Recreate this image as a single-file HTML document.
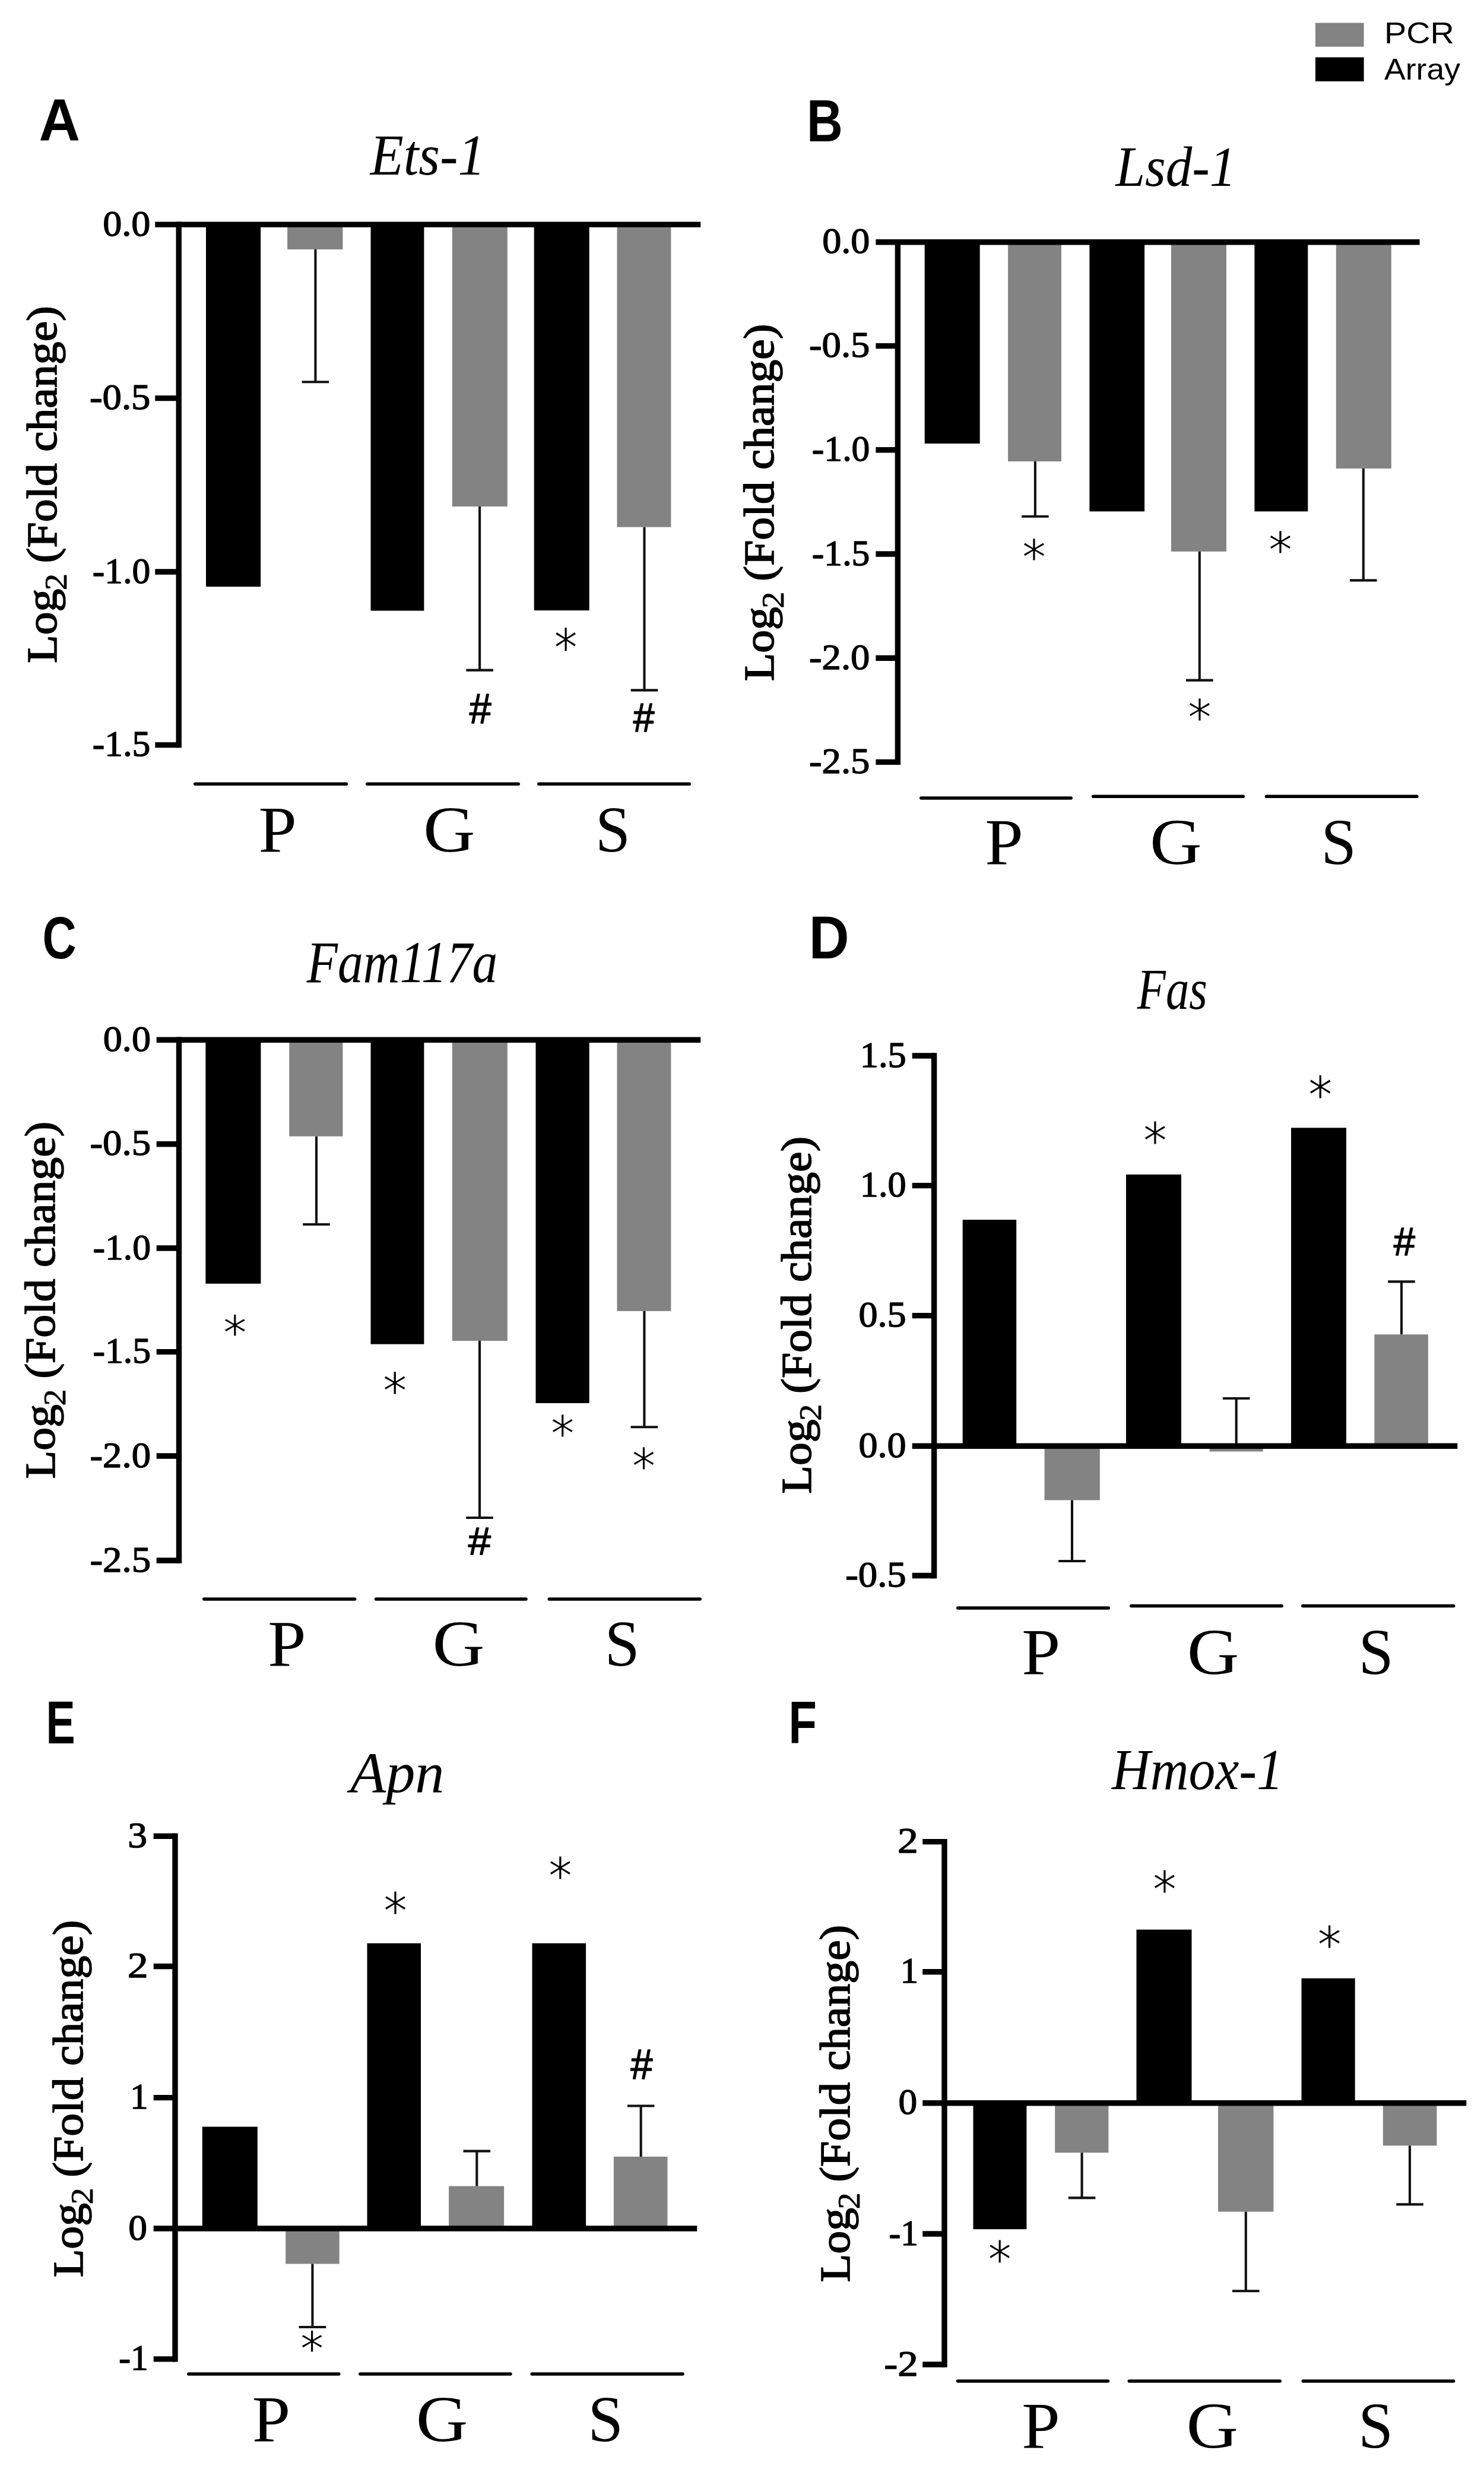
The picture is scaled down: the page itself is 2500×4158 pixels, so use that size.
<!DOCTYPE html>
<html lang="en"><head><meta charset="utf-8"><title>Figure: PCR vs Array Log2 fold change</title>
<style>
html,body{margin:0;padding:0;background:#fff}
svg{display:block}
text{fill:#000;white-space:pre}
</style></head>
<body>
<svg width="2500" height="4158" viewBox="0 0 2500 4158">
<rect width="2500" height="4158" fill="#fff"/>
<g shape-rendering="geometricPrecision">
<rect x="2216.0" y="38.5" width="81.6" height="40.2" fill="#838383"/>
<rect x="2216.0" y="96.5" width="81.6" height="40.5" fill="#000"/>
<rect x="347.0" y="378.1" width="92.1" height="609.9" fill="#000"/>
<rect x="484.1" y="378.1" width="93.3" height="41.9" fill="#838383"/>
<rect x="624.5" y="378.1" width="89.9" height="650.4" fill="#000"/>
<rect x="761.8" y="378.1" width="93.0" height="474.9" fill="#838383"/>
<rect x="899.7" y="378.1" width="93.0" height="649.9" fill="#000"/>
<rect x="1039.5" y="378.1" width="90.9" height="509.6" fill="#838383"/>
<line x1="531.4" y1="420.0" x2="531.4" y2="643.2" stroke="#111" stroke-width="4.1" stroke-linecap="butt"/>
<line x1="508.6" y1="643.2" x2="554.2" y2="643.2" stroke="#111" stroke-width="4.1" stroke-linecap="butt"/>
<line x1="808.1" y1="853.0" x2="808.1" y2="1128.6" stroke="#111" stroke-width="4.1" stroke-linecap="butt"/>
<line x1="785.3" y1="1128.6" x2="830.9" y2="1128.6" stroke="#111" stroke-width="4.1" stroke-linecap="butt"/>
<line x1="1085.5" y1="887.7" x2="1085.5" y2="1162.4" stroke="#111" stroke-width="4.1" stroke-linecap="butt"/>
<line x1="1062.7" y1="1162.4" x2="1108.3" y2="1162.4" stroke="#111" stroke-width="4.1" stroke-linecap="butt"/>
<line x1="301.2" y1="373.4" x2="301.2" y2="1259.3" stroke="#000" stroke-width="9.4" stroke-linecap="butt"/>
<line x1="261.3" y1="670.6" x2="301.2" y2="670.6" stroke="#000" stroke-width="9.4" stroke-linecap="butt"/>
<line x1="261.3" y1="963.0" x2="301.2" y2="963.0" stroke="#000" stroke-width="9.4" stroke-linecap="butt"/>
<line x1="261.3" y1="1254.6" x2="301.2" y2="1254.6" stroke="#000" stroke-width="9.4" stroke-linecap="butt"/>
<line x1="261.3" y1="378.1" x2="1180.3" y2="378.1" stroke="#000" stroke-width="9.4" stroke-linecap="butt"/>
<line x1="328.8" y1="1320.3" x2="583.2" y2="1320.3" stroke="#000" stroke-width="5.6" stroke-linecap="round"/>
<line x1="618.8" y1="1320.3" x2="873.2" y2="1320.3" stroke="#000" stroke-width="5.6" stroke-linecap="round"/>
<line x1="907.8" y1="1320.3" x2="1161.2" y2="1320.3" stroke="#000" stroke-width="5.6" stroke-linecap="round"/>
<rect x="1557.7" y="407.7" width="93.0" height="339.3" fill="#000"/>
<rect x="1698.1" y="407.7" width="89.9" height="369.3" fill="#838383"/>
<rect x="1835.4" y="407.7" width="92.7" height="453.6" fill="#000"/>
<rect x="1973.0" y="407.7" width="93.0" height="521.1" fill="#838383"/>
<rect x="2113.4" y="407.7" width="89.9" height="453.6" fill="#000"/>
<rect x="2250.8" y="407.7" width="93.0" height="381.3" fill="#838383"/>
<line x1="1743.9" y1="777.0" x2="1743.9" y2="869.8" stroke="#111" stroke-width="4.1" stroke-linecap="butt"/>
<line x1="1721.1" y1="869.8" x2="1766.7" y2="869.8" stroke="#111" stroke-width="4.1" stroke-linecap="butt"/>
<line x1="2020.8" y1="928.8" x2="2020.8" y2="1145.6" stroke="#111" stroke-width="4.1" stroke-linecap="butt"/>
<line x1="1998.0" y1="1145.6" x2="2043.6" y2="1145.6" stroke="#111" stroke-width="4.1" stroke-linecap="butt"/>
<line x1="2296.8" y1="789.0" x2="2296.8" y2="977.4" stroke="#111" stroke-width="4.1" stroke-linecap="butt"/>
<line x1="2274.0" y1="977.4" x2="2319.6" y2="977.4" stroke="#111" stroke-width="4.1" stroke-linecap="butt"/>
<line x1="1512.4" y1="403.0" x2="1512.4" y2="1288.1" stroke="#000" stroke-width="9.4" stroke-linecap="butt"/>
<line x1="1475.4" y1="582.6" x2="1512.4" y2="582.6" stroke="#000" stroke-width="9.4" stroke-linecap="butt"/>
<line x1="1475.4" y1="757.7" x2="1512.4" y2="757.7" stroke="#000" stroke-width="9.4" stroke-linecap="butt"/>
<line x1="1475.4" y1="933.0" x2="1512.4" y2="933.0" stroke="#000" stroke-width="9.4" stroke-linecap="butt"/>
<line x1="1475.4" y1="1108.3" x2="1512.4" y2="1108.3" stroke="#000" stroke-width="9.4" stroke-linecap="butt"/>
<line x1="1475.4" y1="1283.4" x2="1512.4" y2="1283.4" stroke="#000" stroke-width="9.4" stroke-linecap="butt"/>
<line x1="1475.4" y1="407.7" x2="2391.6" y2="407.7" stroke="#000" stroke-width="9.4" stroke-linecap="butt"/>
<line x1="1551.8" y1="1344.0" x2="1804.2" y2="1344.0" stroke="#000" stroke-width="5.6" stroke-linecap="round"/>
<line x1="1841.8" y1="1341.2" x2="2094.2" y2="1341.2" stroke="#000" stroke-width="5.6" stroke-linecap="round"/>
<line x1="2133.5" y1="1341.2" x2="2386.8" y2="1341.2" stroke="#000" stroke-width="5.6" stroke-linecap="round"/>
<rect x="346.4" y="1751.3" width="93.0" height="410.5" fill="#000"/>
<rect x="487.2" y="1751.3" width="90.2" height="162.4" fill="#838383"/>
<rect x="624.5" y="1751.3" width="89.9" height="512.4" fill="#000"/>
<rect x="761.8" y="1751.3" width="93.0" height="506.7" fill="#838383"/>
<rect x="902.5" y="1751.3" width="90.2" height="611.7" fill="#000"/>
<rect x="1039.5" y="1751.3" width="90.9" height="456.7" fill="#838383"/>
<line x1="533.0" y1="1913.7" x2="533.0" y2="2062.0" stroke="#111" stroke-width="4.1" stroke-linecap="butt"/>
<line x1="510.2" y1="2062.0" x2="555.8" y2="2062.0" stroke="#111" stroke-width="4.1" stroke-linecap="butt"/>
<line x1="808.0" y1="2258.0" x2="808.0" y2="2556.0" stroke="#111" stroke-width="4.1" stroke-linecap="butt"/>
<line x1="785.2" y1="2556.0" x2="830.8" y2="2556.0" stroke="#111" stroke-width="4.1" stroke-linecap="butt"/>
<line x1="1085.4" y1="2208.0" x2="1085.4" y2="2403.3" stroke="#111" stroke-width="4.1" stroke-linecap="butt"/>
<line x1="1062.6" y1="2403.3" x2="1108.2" y2="2403.3" stroke="#111" stroke-width="4.1" stroke-linecap="butt"/>
<line x1="301.5" y1="1746.6" x2="301.5" y2="2632.7" stroke="#000" stroke-width="9.4" stroke-linecap="butt"/>
<line x1="263.7" y1="1926.8" x2="301.5" y2="1926.8" stroke="#000" stroke-width="9.4" stroke-linecap="butt"/>
<line x1="263.7" y1="2102.0" x2="301.5" y2="2102.0" stroke="#000" stroke-width="9.4" stroke-linecap="butt"/>
<line x1="263.7" y1="2276.6" x2="301.5" y2="2276.6" stroke="#000" stroke-width="9.4" stroke-linecap="butt"/>
<line x1="263.7" y1="2452.0" x2="301.5" y2="2452.0" stroke="#000" stroke-width="9.4" stroke-linecap="butt"/>
<line x1="263.7" y1="2628.0" x2="301.5" y2="2628.0" stroke="#000" stroke-width="9.4" stroke-linecap="butt"/>
<line x1="263.7" y1="1751.3" x2="1180.3" y2="1751.3" stroke="#000" stroke-width="9.4" stroke-linecap="butt"/>
<line x1="343.8" y1="2693.0" x2="597.6" y2="2693.0" stroke="#000" stroke-width="5.6" stroke-linecap="round"/>
<line x1="633.5" y1="2693.0" x2="886.0" y2="2693.0" stroke="#000" stroke-width="5.6" stroke-linecap="round"/>
<line x1="925.3" y1="2693.0" x2="1179.2" y2="2693.0" stroke="#000" stroke-width="5.6" stroke-linecap="round"/>
<rect x="1621.7" y="2054.2" width="90.5" height="381.0" fill="#000"/>
<rect x="1759.6" y="2435.2" width="93.3" height="91.2" fill="#838383"/>
<rect x="1897.0" y="1978.0" width="93.0" height="457.2" fill="#000"/>
<rect x="2037.7" y="2435.2" width="89.9" height="9.3" fill="#838383"/>
<rect x="2175.0" y="1899.3" width="93.0" height="535.9" fill="#000"/>
<rect x="2315.4" y="2247.3" width="90.5" height="187.9" fill="#838383"/>
<line x1="1806.0" y1="2526.4" x2="1806.0" y2="2629.0" stroke="#111" stroke-width="4.1" stroke-linecap="butt"/>
<line x1="1783.2" y1="2629.0" x2="1828.8" y2="2629.0" stroke="#111" stroke-width="4.1" stroke-linecap="butt"/>
<line x1="2082.7" y1="2435.0" x2="2082.7" y2="2355.0" stroke="#111" stroke-width="4.1" stroke-linecap="butt"/>
<line x1="2059.9" y1="2355.0" x2="2105.5" y2="2355.0" stroke="#111" stroke-width="4.1" stroke-linecap="butt"/>
<line x1="2361.0" y1="2247.3" x2="2361.0" y2="2158.4" stroke="#111" stroke-width="4.1" stroke-linecap="butt"/>
<line x1="2338.2" y1="2158.4" x2="2383.8" y2="2158.4" stroke="#111" stroke-width="4.1" stroke-linecap="butt"/>
<line x1="1573.6" y1="1773.3" x2="1573.6" y2="2658.2" stroke="#000" stroke-width="9.4" stroke-linecap="butt"/>
<line x1="1536.7" y1="1778.0" x2="1573.6" y2="1778.0" stroke="#000" stroke-width="9.4" stroke-linecap="butt"/>
<line x1="1536.7" y1="1996.6" x2="1573.6" y2="1996.6" stroke="#000" stroke-width="9.4" stroke-linecap="butt"/>
<line x1="1536.7" y1="2215.6" x2="1573.6" y2="2215.6" stroke="#000" stroke-width="9.4" stroke-linecap="butt"/>
<line x1="1536.7" y1="2653.5" x2="1573.6" y2="2653.5" stroke="#000" stroke-width="9.4" stroke-linecap="butt"/>
<line x1="1536.7" y1="2435.2" x2="2455.3" y2="2435.2" stroke="#000" stroke-width="9.4" stroke-linecap="butt"/>
<line x1="1613.8" y1="2708.0" x2="1867.2" y2="2708.0" stroke="#000" stroke-width="5.6" stroke-linecap="round"/>
<line x1="1905.8" y1="2704.5" x2="2159.2" y2="2704.5" stroke="#000" stroke-width="5.6" stroke-linecap="round"/>
<line x1="2194.8" y1="2704.5" x2="2448.7" y2="2704.5" stroke="#000" stroke-width="5.6" stroke-linecap="round"/>
<rect x="340.8" y="3581.6" width="93.0" height="171.4" fill="#000"/>
<rect x="481.2" y="3753.0" width="90.5" height="59.5" fill="#838383"/>
<rect x="618.5" y="3272.6" width="90.5" height="480.4" fill="#000"/>
<rect x="756.1" y="3681.6" width="93.0" height="71.4" fill="#838383"/>
<rect x="896.5" y="3272.6" width="90.6" height="480.4" fill="#000"/>
<rect x="1033.9" y="3632.0" width="90.5" height="121.0" fill="#838383"/>
<line x1="526.4" y1="3812.5" x2="526.4" y2="3919.0" stroke="#111" stroke-width="4.1" stroke-linecap="butt"/>
<line x1="503.6" y1="3919.0" x2="549.2" y2="3919.0" stroke="#111" stroke-width="4.1" stroke-linecap="butt"/>
<line x1="803.3" y1="3681.6" x2="803.3" y2="3622.6" stroke="#111" stroke-width="4.1" stroke-linecap="butt"/>
<line x1="780.5" y1="3622.6" x2="826.1" y2="3622.6" stroke="#111" stroke-width="4.1" stroke-linecap="butt"/>
<line x1="1079.7" y1="3632.0" x2="1079.7" y2="3546.5" stroke="#111" stroke-width="4.1" stroke-linecap="butt"/>
<line x1="1056.9" y1="3546.5" x2="1102.5" y2="3546.5" stroke="#111" stroke-width="4.1" stroke-linecap="butt"/>
<line x1="295.0" y1="3087.5" x2="295.0" y2="3977.6" stroke="#000" stroke-width="9.4" stroke-linecap="butt"/>
<line x1="258.7" y1="3092.2" x2="295.0" y2="3092.2" stroke="#000" stroke-width="9.4" stroke-linecap="butt"/>
<line x1="258.7" y1="3311.5" x2="295.0" y2="3311.5" stroke="#000" stroke-width="9.4" stroke-linecap="butt"/>
<line x1="258.7" y1="3532.6" x2="295.0" y2="3532.6" stroke="#000" stroke-width="9.4" stroke-linecap="butt"/>
<line x1="258.7" y1="3972.9" x2="295.0" y2="3972.9" stroke="#000" stroke-width="9.4" stroke-linecap="butt"/>
<line x1="258.7" y1="3753.0" x2="1174.3" y2="3753.0" stroke="#000" stroke-width="9.4" stroke-linecap="butt"/>
<line x1="317.8" y1="3998.0" x2="570.8" y2="3998.0" stroke="#000" stroke-width="5.6" stroke-linecap="round"/>
<line x1="606.8" y1="3998.0" x2="859.9" y2="3998.0" stroke="#000" stroke-width="5.6" stroke-linecap="round"/>
<line x1="896.2" y1="3998.0" x2="1150.0" y2="3998.0" stroke="#000" stroke-width="5.6" stroke-linecap="round"/>
<rect x="1639.5" y="3541.8" width="89.9" height="212.4" fill="#000"/>
<rect x="1777.2" y="3541.8" width="90.2" height="83.5" fill="#838383"/>
<rect x="1914.5" y="3249.6" width="93.0" height="292.2" fill="#000"/>
<rect x="2052.0" y="3541.8" width="93.4" height="182.9" fill="#838383"/>
<rect x="2192.5" y="3331.6" width="90.2" height="210.2" fill="#000"/>
<rect x="2329.8" y="3541.8" width="90.6" height="71.6" fill="#838383"/>
<line x1="1822.6" y1="3625.3" x2="1822.6" y2="3701.4" stroke="#111" stroke-width="4.1" stroke-linecap="butt"/>
<line x1="1799.8" y1="3701.4" x2="1845.4" y2="3701.4" stroke="#111" stroke-width="4.1" stroke-linecap="butt"/>
<line x1="2098.8" y1="3724.7" x2="2098.8" y2="3858.3" stroke="#111" stroke-width="4.1" stroke-linecap="butt"/>
<line x1="2076.0" y1="3858.3" x2="2121.6" y2="3858.3" stroke="#111" stroke-width="4.1" stroke-linecap="butt"/>
<line x1="2375.0" y1="3613.4" x2="2375.0" y2="3712.4" stroke="#111" stroke-width="4.1" stroke-linecap="butt"/>
<line x1="2352.2" y1="3712.4" x2="2397.8" y2="3712.4" stroke="#111" stroke-width="4.1" stroke-linecap="butt"/>
<line x1="1591.0" y1="3096.9" x2="1591.0" y2="3986.7" stroke="#000" stroke-width="9.4" stroke-linecap="butt"/>
<line x1="1554.2" y1="3101.6" x2="1591.0" y2="3101.6" stroke="#000" stroke-width="9.4" stroke-linecap="butt"/>
<line x1="1554.2" y1="3320.8" x2="1591.0" y2="3320.8" stroke="#000" stroke-width="9.4" stroke-linecap="butt"/>
<line x1="1554.2" y1="3762.0" x2="1591.0" y2="3762.0" stroke="#000" stroke-width="9.4" stroke-linecap="butt"/>
<line x1="1554.2" y1="3982.0" x2="1591.0" y2="3982.0" stroke="#000" stroke-width="9.4" stroke-linecap="butt"/>
<line x1="1554.2" y1="3541.8" x2="2470.3" y2="3541.8" stroke="#000" stroke-width="9.4" stroke-linecap="butt"/>
<line x1="1613.6" y1="4010.0" x2="1866.5" y2="4010.0" stroke="#000" stroke-width="5.6" stroke-linecap="round"/>
<line x1="1902.3" y1="4010.0" x2="2156.2" y2="4010.0" stroke="#000" stroke-width="5.6" stroke-linecap="round"/>
<line x1="2195.3" y1="4010.0" x2="2448.6" y2="4010.0" stroke="#000" stroke-width="5.6" stroke-linecap="round"/>
</g>
<g>
<text transform="translate(2332.04 72.80) scale(0.5580 0.4900)" font-family='"Liberation Sans", sans-serif' font-size="100">PCR</text>
<text transform="translate(2332.00 134.00) scale(0.5358 0.4928)" font-family='"Liberation Sans", sans-serif' font-size="100">Array</text>
<text transform="translate(173.17 396.60) scale(0.6420 0.6136)" font-family='"Liberation Serif", serif' font-size="100" stroke="#000" stroke-width="2.23" stroke-linejoin="round">0.0</text>
<text transform="translate(150.96 689.10) scale(0.6474 0.6136)" font-family='"Liberation Serif", serif' font-size="100" stroke="#000" stroke-width="2.22" stroke-linejoin="round">-0.5</text>
<text transform="translate(155.85 981.50) scale(0.6159 0.6136)" font-family='"Liberation Serif", serif' font-size="100" stroke="#000" stroke-width="2.28" stroke-linejoin="round">-1.0</text>
<text transform="translate(155.85 1273.10) scale(0.6159 0.6136)" font-family='"Liberation Serif", serif' font-size="100" stroke="#000" stroke-width="2.28" stroke-linejoin="round">-1.5</text>
<text transform="translate(435.58 1433.90) scale(1.1580 1.1000)" font-family='"Liberation Serif", serif' font-size="100">P</text>
<text transform="translate(712.95 1433.81) scale(1.2121 1.0971)" font-family='"Liberation Serif", serif' font-size="100">G</text>
<text transform="translate(1003.05 1433.81) scale(1.0591 1.0971)" font-family='"Liberation Serif", serif' font-size="100">S</text>
<text transform="translate(65.38 237.30) scale(0.9618 0.9957)" font-family='"Liberation Sans", sans-serif' font-size="100" font-weight="bold">A</text>
<text transform="translate(623.83 294.30) scale(0.9174 0.9723)" font-family='"Liberation Serif", serif' font-size="100" font-style="italic">Ets-1</text>
<text transform="translate(933.21 1123.16) scale(0.7957 0.8848)" font-family='"DejaVu Sans", "Liberation Sans", sans-serif' font-size="100" stroke="#fff" stroke-width="1.43" stroke-linejoin="round">*</text>
<text transform="translate(790.75 1217.75) scale(0.6625 0.6986)" font-family='"Liberation Sans", sans-serif' font-size="100" stroke="#000" stroke-width="2.20" stroke-linejoin="round">#</text>
<text transform="translate(1066.75 1231.85) scale(0.6429 0.6913)" font-family='"Liberation Sans", sans-serif' font-size="100" stroke="#000" stroke-width="2.25" stroke-linejoin="round">#</text>
<text transform="translate(1385.17 426.20) scale(0.6420 0.6136)" font-family='"Liberation Serif", serif' font-size="100" stroke="#000" stroke-width="2.23" stroke-linejoin="round">0.0</text>
<text transform="translate(1362.96 601.10) scale(0.6474 0.6136)" font-family='"Liberation Serif", serif' font-size="100" stroke="#000" stroke-width="2.22" stroke-linejoin="round">-0.5</text>
<text transform="translate(1367.85 776.20) scale(0.6159 0.6136)" font-family='"Liberation Serif", serif' font-size="100" stroke="#000" stroke-width="2.28" stroke-linejoin="round">-1.0</text>
<text transform="translate(1367.85 951.50) scale(0.6159 0.6136)" font-family='"Liberation Serif", serif' font-size="100" stroke="#000" stroke-width="2.28" stroke-linejoin="round">-1.5</text>
<text transform="translate(1362.96 1126.80) scale(0.6474 0.6136)" font-family='"Liberation Serif", serif' font-size="100" stroke="#000" stroke-width="2.22" stroke-linejoin="round">-2.0</text>
<text transform="translate(1362.96 1301.90) scale(0.6474 0.6136)" font-family='"Liberation Serif", serif' font-size="100" stroke="#000" stroke-width="2.22" stroke-linejoin="round">-2.5</text>
<text transform="translate(1659.18 1455.20) scale(1.1600 1.1000)" font-family='"Liberation Serif", serif' font-size="100">P</text>
<text transform="translate(1936.94 1455.11) scale(1.2152 1.0971)" font-family='"Liberation Serif", serif' font-size="100">G</text>
<text transform="translate(2225.59 1455.11) scale(1.0682 1.0971)" font-family='"Liberation Serif", serif' font-size="100">S</text>
<text transform="translate(1358.95 237.50) scale(0.8419 1.0072)" font-family='"Liberation Sans", sans-serif' font-size="100" font-weight="bold">B</text>
<text transform="translate(1879.48 313.10) scale(0.8907 0.9508)" font-family='"Liberation Serif", serif' font-size="100" font-style="italic">Lsd-1</text>
<text transform="translate(1721.78 968.20) scale(0.8087 0.8174)" font-family='"DejaVu Sans", "Liberation Sans", sans-serif' font-size="100" stroke="#fff" stroke-width="1.48" stroke-linejoin="round">*</text>
<text transform="translate(2000.78 1237.66) scale(0.8087 0.8435)" font-family='"DejaVu Sans", "Liberation Sans", sans-serif' font-size="100" stroke="#fff" stroke-width="1.45" stroke-linejoin="round">*</text>
<text transform="translate(2136.78 955.68) scale(0.8087 0.8304)" font-family='"DejaVu Sans", "Liberation Sans", sans-serif' font-size="100" stroke="#fff" stroke-width="1.46" stroke-linejoin="round">*</text>
<text transform="translate(173.77 1769.80) scale(0.6420 0.6136)" font-family='"Liberation Serif", serif' font-size="100" stroke="#000" stroke-width="2.23" stroke-linejoin="round">0.0</text>
<text transform="translate(151.56 1945.30) scale(0.6474 0.6136)" font-family='"Liberation Serif", serif' font-size="100" stroke="#000" stroke-width="2.22" stroke-linejoin="round">-0.5</text>
<text transform="translate(156.45 2120.50) scale(0.6159 0.6136)" font-family='"Liberation Serif", serif' font-size="100" stroke="#000" stroke-width="2.28" stroke-linejoin="round">-1.0</text>
<text transform="translate(156.45 2295.10) scale(0.6159 0.6136)" font-family='"Liberation Serif", serif' font-size="100" stroke="#000" stroke-width="2.28" stroke-linejoin="round">-1.5</text>
<text transform="translate(151.56 2470.50) scale(0.6474 0.6136)" font-family='"Liberation Serif", serif' font-size="100" stroke="#000" stroke-width="2.22" stroke-linejoin="round">-2.0</text>
<text transform="translate(151.56 2646.50) scale(0.6474 0.6136)" font-family='"Liberation Serif", serif' font-size="100" stroke="#000" stroke-width="2.22" stroke-linejoin="round">-2.5</text>
<text transform="translate(451.19 2805.00) scale(1.1560 1.1000)" font-family='"Liberation Serif", serif' font-size="100">P</text>
<text transform="translate(728.53 2804.91) scale(1.2182 1.0971)" font-family='"Liberation Serif", serif' font-size="100">G</text>
<text transform="translate(1018.66 2804.91) scale(1.0568 1.0971)" font-family='"Liberation Serif", serif' font-size="100">S</text>
<text transform="translate(71.44 1613.79) scale(0.7909 1.0070)" font-family='"Liberation Sans", sans-serif' font-size="100" font-weight="bold">C</text>
<text transform="translate(516.86 1653.70) scale(0.8551 1.0031)" font-family='"Liberation Serif", serif' font-size="100" font-style="italic">Fam117a</text>
<text transform="translate(375.80 2272.59) scale(0.8022 0.8065)" font-family='"DejaVu Sans", "Liberation Sans", sans-serif' font-size="100" stroke="#fff" stroke-width="1.49" stroke-linejoin="round">*</text>
<text transform="translate(644.76 2371.68) scale(0.8196 0.8304)" font-family='"DejaVu Sans", "Liberation Sans", sans-serif' font-size="100" stroke="#fff" stroke-width="1.45" stroke-linejoin="round">*</text>
<text transform="translate(927.80 2443.93) scale(0.8000 0.8391)" font-family='"DejaVu Sans", "Liberation Sans", sans-serif' font-size="100" stroke="#fff" stroke-width="1.46" stroke-linejoin="round">*</text>
<text transform="translate(1064.60 2499.31) scale(0.8000 0.8348)" font-family='"DejaVu Sans", "Liberation Sans", sans-serif' font-size="100" stroke="#fff" stroke-width="1.47" stroke-linejoin="round">*</text>
<text transform="translate(788.75 2618.25) scale(0.6875 0.6507)" font-family='"Liberation Sans", sans-serif' font-size="100" stroke="#000" stroke-width="2.24" stroke-linejoin="round">#</text>
<text transform="translate(1448.82 1796.50) scale(0.6228 0.6136)" font-family='"Liberation Serif", serif' font-size="100" stroke="#000" stroke-width="2.26" stroke-linejoin="round">1.5</text>
<text transform="translate(1448.82 2015.10) scale(0.6228 0.6136)" font-family='"Liberation Serif", serif' font-size="100" stroke="#000" stroke-width="2.26" stroke-linejoin="round">1.0</text>
<text transform="translate(1446.47 2234.10) scale(0.6420 0.6136)" font-family='"Liberation Serif", serif' font-size="100" stroke="#000" stroke-width="2.23" stroke-linejoin="round">0.5</text>
<text transform="translate(1446.47 2453.70) scale(0.6420 0.6136)" font-family='"Liberation Serif", serif' font-size="100" stroke="#000" stroke-width="2.23" stroke-linejoin="round">0.0</text>
<text transform="translate(1424.26 2672.00) scale(0.6474 0.6136)" font-family='"Liberation Serif", serif' font-size="100" stroke="#000" stroke-width="2.22" stroke-linejoin="round">-0.5</text>
<text transform="translate(1721.16 2819.00) scale(1.1700 1.1000)" font-family='"Liberation Serif", serif' font-size="100">P</text>
<text transform="translate(1999.85 2818.91) scale(1.2121 1.0971)" font-family='"Liberation Serif", serif' font-size="100">G</text>
<text transform="translate(2288.66 2818.91) scale(1.0568 1.0971)" font-family='"Liberation Serif", serif' font-size="100">S</text>
<text transform="translate(1362.76 1614.10) scale(0.9397 1.0159)" font-family='"Liberation Sans", sans-serif' font-size="100" font-weight="bold">D</text>
<text transform="translate(1915.79 1699.00) scale(0.7874 0.9723)" font-family='"Liberation Serif", serif' font-size="100" font-style="italic">Fas</text>
<text transform="translate(1925.79 1952.13) scale(0.8065 0.8630)" font-family='"DejaVu Sans", "Liberation Sans", sans-serif' font-size="100" stroke="#fff" stroke-width="1.44" stroke-linejoin="round">*</text>
<text transform="translate(2203.76 1874.69) scale(0.8196 0.8652)" font-family='"DejaVu Sans", "Liberation Sans", sans-serif' font-size="100" stroke="#fff" stroke-width="1.43" stroke-linejoin="round">*</text>
<text transform="translate(2347.75 2114.25) scale(0.6518 0.6739)" font-family='"Liberation Sans", sans-serif' font-size="100" stroke="#000" stroke-width="2.26" stroke-linejoin="round">#</text>
<text transform="translate(215.28 3110.70) scale(0.6558 0.6136)" font-family='"Liberation Serif", serif' font-size="100" stroke="#000" stroke-width="2.21" stroke-linejoin="round">3</text>
<text transform="translate(214.71 3330.00) scale(0.6976 0.6136)" font-family='"Liberation Serif", serif' font-size="100" stroke="#000" stroke-width="2.14" stroke-linejoin="round">2</text>
<text transform="translate(219.09 3551.10) scale(0.6139 0.6136)" font-family='"Liberation Serif", serif' font-size="100" stroke="#000" stroke-width="2.28" stroke-linejoin="round">1</text>
<text transform="translate(216.30 3771.50) scale(0.6341 0.6136)" font-family='"Liberation Serif", serif' font-size="100" stroke="#000" stroke-width="2.24" stroke-linejoin="round">0</text>
<text transform="translate(200.22 3991.40) scale(0.5935 0.6136)" font-family='"Liberation Serif", serif' font-size="100" stroke="#000" stroke-width="2.32" stroke-linejoin="round">-1</text>
<text transform="translate(424.68 4110.70) scale(1.1600 1.1000)" font-family='"Liberation Serif", serif' font-size="100">P</text>
<text transform="translate(700.85 4110.61) scale(1.2121 1.0971)" font-family='"Liberation Serif", serif' font-size="100">G</text>
<text transform="translate(990.59 4110.61) scale(1.0682 1.0971)" font-family='"Liberation Serif", serif' font-size="100">S</text>
<text transform="translate(77.58 2936.00) scale(0.7368 1.0246)" font-family='"Liberation Sans", sans-serif' font-size="100" font-weight="bold">E</text>
<text transform="translate(590.10 3017.90) scale(0.9835 0.9652)" font-family='"Liberation Serif", serif' font-size="100" font-style="italic">Apn</text>
<text transform="translate(645.78 3248.79) scale(0.8087 0.8478)" font-family='"DejaVu Sans", "Liberation Sans", sans-serif' font-size="100" stroke="#fff" stroke-width="1.45" stroke-linejoin="round">*</text>
<text transform="translate(923.79 3189.63) scale(0.8043 0.8630)" font-family='"DejaVu Sans", "Liberation Sans", sans-serif' font-size="100" stroke="#fff" stroke-width="1.44" stroke-linejoin="round">*</text>
<text transform="translate(1062.55 3501.25) scale(0.6643 0.7029)" font-family='"Liberation Sans", sans-serif' font-size="100" stroke="#000" stroke-width="2.20" stroke-linejoin="round">#</text>
<text transform="translate(505.81 3983.55) scale(0.7957 0.8087)" font-family='"DejaVu Sans", "Liberation Sans", sans-serif' font-size="100" stroke="#fff" stroke-width="1.50" stroke-linejoin="round">*</text>
<text transform="translate(1512.01 3120.10) scale(0.6976 0.6136)" font-family='"Liberation Serif", serif' font-size="100" stroke="#000" stroke-width="2.14" stroke-linejoin="round">2</text>
<text transform="translate(1516.39 3339.30) scale(0.6139 0.6136)" font-family='"Liberation Serif", serif' font-size="100" stroke="#000" stroke-width="2.28" stroke-linejoin="round">1</text>
<text transform="translate(1513.60 3560.30) scale(0.6341 0.6136)" font-family='"Liberation Serif", serif' font-size="100" stroke="#000" stroke-width="2.24" stroke-linejoin="round">0</text>
<text transform="translate(1497.52 3780.50) scale(0.5935 0.6136)" font-family='"Liberation Serif", serif' font-size="100" stroke="#000" stroke-width="2.32" stroke-linejoin="round">-1</text>
<text transform="translate(1489.22 4000.50) scale(0.6919 0.6136)" font-family='"Liberation Serif", serif' font-size="100" stroke="#000" stroke-width="2.15" stroke-linejoin="round">-2</text>
<text transform="translate(1721.18 4122.20) scale(1.1600 1.1000)" font-family='"Liberation Serif", serif' font-size="100">P</text>
<text transform="translate(1998.45 4122.11) scale(1.2121 1.0971)" font-family='"Liberation Serif", serif' font-size="100">G</text>
<text transform="translate(2288.27 4122.11) scale(1.0545 1.0971)" font-family='"Liberation Serif", serif' font-size="100">S</text>
<text transform="translate(1328.45 2934.99) scale(0.7750 1.0100)" font-family='"Liberation Sans", sans-serif' font-size="100" font-weight="bold">F</text>
<text transform="translate(1872.99 3012.60) scale(0.8971 0.9800)" font-family='"Liberation Serif", serif' font-size="100" font-style="italic">Hmox-1</text>
<text transform="translate(1664.30 3835.99) scale(0.7978 0.8478)" font-family='"DejaVu Sans", "Liberation Sans", sans-serif' font-size="100" stroke="#fff" stroke-width="1.46" stroke-linejoin="round">*</text>
<text transform="translate(1941.78 3212.63) scale(0.8087 0.8630)" font-family='"DejaVu Sans", "Liberation Sans", sans-serif' font-size="100" stroke="#fff" stroke-width="1.44" stroke-linejoin="round">*</text>
<text transform="translate(2219.17 3306.18) scale(0.8174 0.8543)" font-family='"DejaVu Sans", "Liberation Sans", sans-serif' font-size="100" stroke="#fff" stroke-width="1.44" stroke-linejoin="round">*</text>
<text transform="translate(94.75 1116.71) rotate(-90) scale(0.7762 0.7200)" font-family='"Liberation Serif", serif' font-size="100" stroke="#000" stroke-width="2.27" stroke-linejoin="round">Log<tspan font-size="72.6" dx="-3.05" dy="23.96" stroke-width="1.07">2</tspan><tspan dx="-2.31" dy="-23.96"> (Fold change)</tspan></text>
<text transform="translate(1302.95 1147.11) rotate(-90) scale(0.7762 0.7200)" font-family='"Liberation Serif", serif' font-size="100" stroke="#000" stroke-width="2.27" stroke-linejoin="round">Log<tspan font-size="72.6" dx="-3.05" dy="23.96" stroke-width="1.07">2</tspan><tspan dx="-2.31" dy="-23.96"> (Fold change)</tspan></text>
<text transform="translate(92.45 2490.21) rotate(-90) scale(0.7762 0.7200)" font-family='"Liberation Serif", serif' font-size="100" stroke="#000" stroke-width="2.27" stroke-linejoin="round">Log<tspan font-size="72.6" dx="-3.05" dy="23.96" stroke-width="1.07">2</tspan><tspan dx="-2.31" dy="-23.96"> (Fold change)</tspan></text>
<text transform="translate(1365.55 2515.41) rotate(-90) scale(0.7762 0.7200)" font-family='"Liberation Serif", serif' font-size="100" stroke="#000" stroke-width="2.27" stroke-linejoin="round">Log<tspan font-size="72.6" dx="-3.05" dy="23.96" stroke-width="1.07">2</tspan><tspan dx="-2.31" dy="-23.96"> (Fold change)</tspan></text>
<text transform="translate(138.95 3835.11) rotate(-90) scale(0.7762 0.7200)" font-family='"Liberation Serif", serif' font-size="100" stroke="#000" stroke-width="2.27" stroke-linejoin="round">Log<tspan font-size="72.6" dx="-3.05" dy="23.96" stroke-width="1.07">2</tspan><tspan dx="-2.31" dy="-23.96"> (Fold change)</tspan></text>
<text transform="translate(1430.75 3843.21) rotate(-90) scale(0.7762 0.7200)" font-family='"Liberation Serif", serif' font-size="100" stroke="#000" stroke-width="2.27" stroke-linejoin="round">Log<tspan font-size="72.6" dx="-3.05" dy="23.96" stroke-width="1.07">2</tspan><tspan dx="-2.31" dy="-23.96"> (Fold change)</tspan></text>
</g>
</svg>
</body></html>
